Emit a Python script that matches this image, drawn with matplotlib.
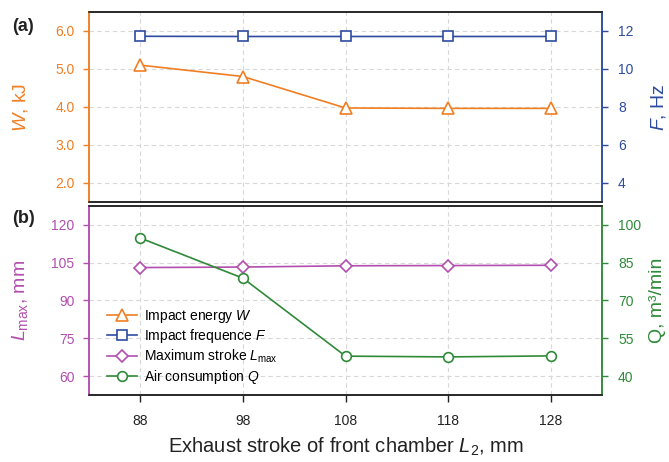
import matplotlib
matplotlib.use("Agg")
import matplotlib.pyplot as plt

plt.rcParams['font.family'] = ['Liberation Sans', 'DejaVu Sans']
plt.rcParams['mathtext.fontset'] = 'custom'
plt.rcParams['mathtext.rm'] = 'Liberation Sans'
plt.rcParams['mathtext.it'] = 'Liberation Sans:italic'

# Exhaust stroke of front chamber L2 (mm)
stroke = [88, 98, 108, 118, 128]
# Impact energy W (kJ) and impact frequency F (Hz)
energy_W = [5.10, 4.80, 3.97, 3.96, 3.96]
freq_F = [11.72, 11.71, 11.71, 11.71, 11.71]
# Maximum stroke Lmax (mm) and air consumption Q (m3/min)
stroke_Lmax = [103.0, 103.2, 103.7, 103.8, 103.9]
air_Q = [94.7, 78.8, 47.9, 47.6, 48.0]

W_ticks = [2.0, 3.0, 4.0, 5.0, 6.0]
F_ticks = [4, 6, 8, 10, 12]
L_ticks = [60, 75, 90, 105, 120]
Q_ticks = [40, 55, 70, 85, 100]

C_W = '#F07F24'
C_F = '#2D4B9F'
C_L = '#B24FAF'
C_Q = '#2F8A38'
GRID = '#D8D8D8'

fig = plt.figure(figsize=(6.69, 4.62), dpi=100)
ax_a = fig.add_axes([0.133, 0.5634, 0.767, 0.4106])
ax_b = fig.add_axes([0.133, 0.145, 0.767, 0.4097])
ax_a2 = ax_a.twinx()
ax_b2 = ax_b.twinx()

tick_fs = 10
lab_fs = 14

def style_axes(ax, ax2, cl, cr, lticks, rticks, lylim, rylim, show_x):
    ax.set_xlim(83, 133)
    ax.set_xticks(stroke)
    ax.set_ylim(*lylim)
    ax2.set_ylim(*rylim)
    ax.set_yticks(lticks)
    ax2.set_yticks(rticks)
    ax.grid(True, color=GRID, linestyle=(0, (4, 3)), linewidth=0.8)
    ax.set_axisbelow(True)
    for a in (ax, ax2):
        a.spines['left'].set_color(cl)
        a.spines['right'].set_color(cr)
        a.spines['top'].set_color('#222222')
        a.spines['bottom'].set_color('#222222')
        for s in a.spines.values():
            s.set_linewidth(1.1)
    ax.tick_params(axis='y', colors=cl, labelsize=tick_fs, direction='out',
                   length=4.5, width=1, pad=6)
    ax2.tick_params(axis='y', colors=cr, labelsize=tick_fs, direction='out',
                    length=4.5, width=1, pad=7)
    if show_x:
        ax.tick_params(axis='x', labelsize=tick_fs, direction='out', length=5, width=1,
                       pad=9, colors='#222222', labelcolor='#222222')
    else:
        ax.tick_params(axis='x', length=0, labelbottom=False)

style_axes(ax_a, ax_a2, C_W, C_F, W_ticks, F_ticks, (1.5, 6.5), (3, 13), False)
ax_a.set_yticklabels([f"{v:.1f}" for v in W_ticks])
style_axes(ax_b, ax_b2, C_L, C_Q, L_ticks, Q_ticks, (52.5, 127.5), (32.5, 107.5), True)

lw = 1.2
hW, = ax_a.plot(stroke, energy_W, color=C_W, lw=lw, marker='^', ms=8,
                mfc='white', mec=C_W, mew=1.2, label='Impact energy $\\mathit{W}$')
hF, = ax_a2.plot(stroke, freq_F, color=C_F, lw=lw, marker='s', ms=6.5,
                 mfc='white', mec=C_F, mew=1.2, label='Impact frequence $\\mathit{F}$')
hL, = ax_b.plot(stroke, stroke_Lmax, color=C_L, lw=lw, marker='D', ms=6.5,
                mfc='white', mec=C_L, mew=1.2, label='Maximum stroke $\\mathit{L}_{\\rm max}$')
hQ, = ax_b2.plot(stroke, air_Q, color=C_Q, lw=lw, marker='o', ms=7,
                 mfc='white', mec=C_Q, mew=1.2, label='Air consumption $\\mathit{Q}$')

leg = ax_b2.legend(handles=[hW, hF, hL, hQ], loc='center left', frameon=False,
                   fontsize=10, handlelength=2.2, handletextpad=0.5,
                   labelspacing=0.18, borderpad=0, borderaxespad=0,
                   bbox_to_anchor=(0.035, 0.256))

ax_a.set_ylabel('$\\mathit{W}$, kJ', color=C_W, fontsize=lab_fs)
ax_a2.set_ylabel('$\\mathit{F}$, Hz', color=C_F, fontsize=lab_fs)
ax_b.set_ylabel('$\\mathit{L}_{\\rm max}$, mm', color=C_L, fontsize=lab_fs)
ax_b2.set_ylabel('Q, m³/min', color=C_Q, fontsize=lab_fs)
for a in (ax_a, ax_b):
    a.yaxis.set_label_coords(-0.115, 0.5)
for a in (ax_a2, ax_b2):
    a.yaxis.set_label_coords(1.092, 0.5)

fig.text(0.5165, 0.032, 'Exhaust stroke of front chamber $\\mathit{L}_2$, mm',
         ha='center', va='center', fontsize=14.5, color='#222222')
fig.text(0.018, 0.942, '(a)', fontsize=13, fontweight='bold', va='center', color='#222222')
fig.text(0.018, 0.528, '(b)', fontsize=13, fontweight='bold', va='center', color='#222222')

fig.savefig('out.png', dpi=100)
